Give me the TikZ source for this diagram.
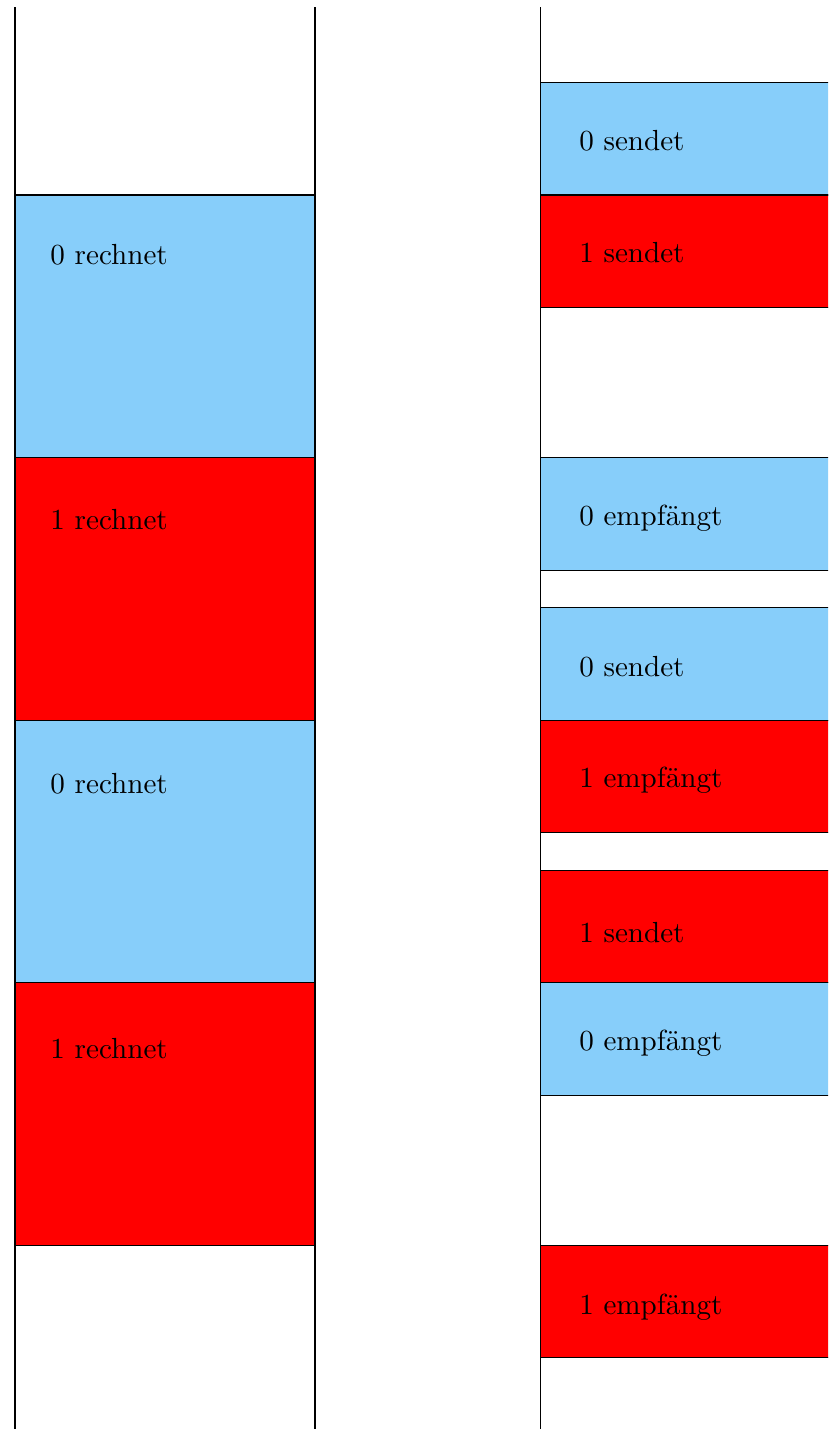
\documentclass[tikz,border=0pt]{standalone}
\usepackage{xcolor}
\usepackage{tikz}
\definecolor{lblue}{RGB}{135,206,250}
\definecolor{lred}{RGB}{255,0,0}

\begin{document}
\begin{tikzpicture}[
    x=0.453cm, y=-0.453cm,
    phase/.style={draw, thin},
    lbl/.style={anchor=base west, inner sep=0pt}
]
\useasboundingbox (-0.4,-0.2) rectangle (21.68,37.9);
\clip (-0.4,-0.2) rectangle (21.68,37.9);
% left column: computing
\filldraw[phase, fill=lblue] (0,5) rectangle (8,12);
\filldraw[phase, fill=lred] (0,12) rectangle (8,19);
\filldraw[phase, fill=lblue] (0,19) rectangle (8,26);
\filldraw[phase, fill=lred] (0,26) rectangle (8,33);
\node[lbl] (calc1) at (0.93,6.85) {0 rechnet};
\node[lbl] (calc2) at (0.93,13.93) {1 rechnet};
\node[lbl] (calc3) at (0.93,20.95) {0 rechnet};
\node[lbl] (calc4) at (0.93,28.03) {1 rechnet};
% right column: communication
\filldraw[phase, fill=lblue] (14,2) rectangle (23,5);
\filldraw[phase, fill=lred] (14,5) rectangle (23,8);
\filldraw[phase, fill=lblue] (14,12) rectangle (23,15);
\filldraw[phase, fill=lblue] (14,16) rectangle (23,19);
\filldraw[phase, fill=lred] (14,19) rectangle (23,22);
\filldraw[phase, fill=lred] (14,23) rectangle (23,26);
\filldraw[phase, fill=lblue] (14,26) rectangle (23,29);
\filldraw[phase, fill=lred] (14,33) rectangle (23,36);
\node[lbl] (com1) at (15.03,3.8) {0 sendet};
\node[lbl] (com2) at (15.03,6.8) {1 sendet};
\node[lbl] (com3) at (15.03,13.8) {0 empfängt};
\node[lbl] (com4) at (15.03,17.85) {0 sendet};
\node[lbl] (com5) at (15.03,20.8) {1 empfängt};
\node[lbl] (com6) at (15.03,24.93) {1 sendet};
\node[lbl] (com7) at (15.03,27.8) {0 empfängt};
\node[lbl] (com8) at (15.03,34.85) {1 empfängt};
% time axes
\draw (0,0) -- (0,38);
\draw (8,0) -- (8,38);
\draw (14,0) -- (14,38);
\end{tikzpicture}
\end{document}
